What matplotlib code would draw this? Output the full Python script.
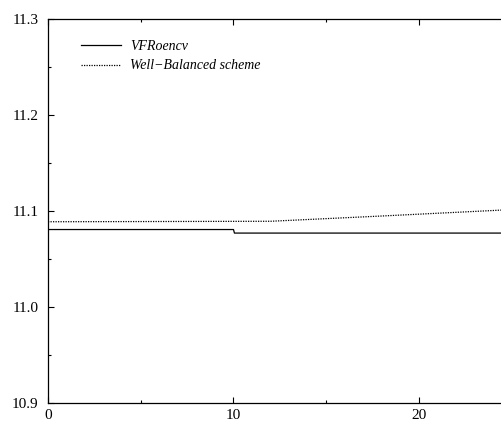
import matplotlib.pyplot as plt
import numpy as np
from matplotlib.ticker import MultipleLocator

# data
vfr_x = [0, 10.0, 10.05, 24.5]
vfr_y = [11.0807, 11.0807, 11.0770, 11.0770]
wb_x = [0, 12.0, 17.9, 24.5]
wb_y = [11.0888, 11.0893, 11.0947, 11.1010]
labels = ['VFRoencv', 'Well\u2212Balanced scheme']

plt.rcParams['font.family'] = ['Liberation Serif', 'DejaVu Serif']

fig = plt.figure(figsize=(5.02, 4.23), dpi=100)
ax = fig.add_axes([48/502, 1 - 403/423, 1 - 48/502, (403 - 19)/423])

ax.plot(vfr_x, vfr_y, color='black', lw=0.9, label=labels[0])
ax.plot(wb_x, wb_y, color='black', lw=0.9, linestyle=(0, (1, 1)), label=labels[1])

ax.set_xlim(0, (502 - 48) / 18.55)
ax.set_ylim(10.9, 11.3)
ax.xaxis.set_major_locator(MultipleLocator(10))
ax.xaxis.set_minor_locator(MultipleLocator(5))
ax.yaxis.set_major_locator(MultipleLocator(0.1))
ax.yaxis.set_minor_locator(MultipleLocator(0.05))
ax.yaxis.set_major_formatter(plt.FuncFormatter(lambda v, p: f'{v:.1f}'))
ax.tick_params(which='both', direction='in', top=True, right=False, labelsize=11, width=0.8)
ax.tick_params(which='major', length=4)
ax.tick_params(which='minor', length=2)
ax.tick_params(axis='x', which='major', pad=4.5)
ax.tick_params(axis='y', which='major', pad=7)
ax.spines['right'].set_visible(False)
for s in ['left', 'bottom', 'top']:
    ax.spines[s].set_linewidth(0.9)

ax.legend(loc='upper left', bbox_to_anchor=(0.073, 0.945), frameon=False,
          borderpad=0, borderaxespad=0, handlelength=2.9, handletextpad=0.65,
          labelspacing=0.45, prop={'style': 'italic', 'size': 10})

fig.savefig('out.png', dpi=100)
